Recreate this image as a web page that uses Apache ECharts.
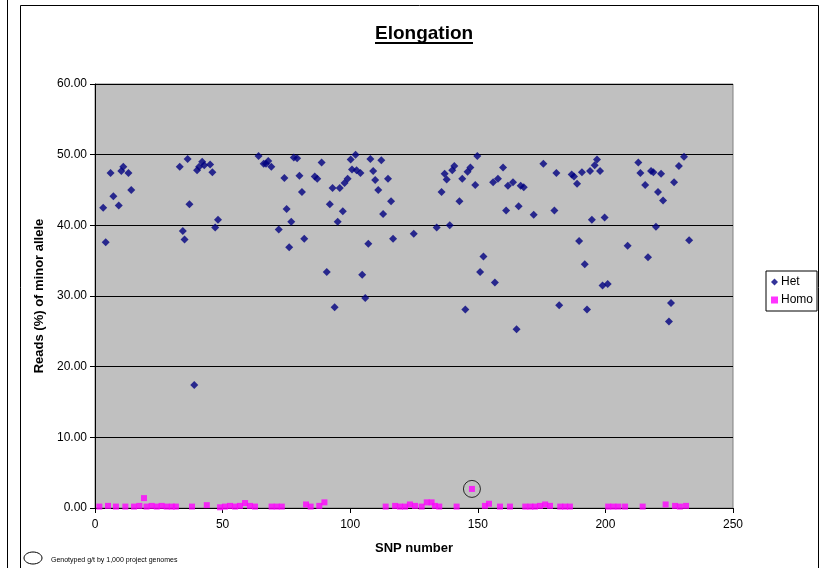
<!DOCTYPE html>
<html>
<head>
<meta charset="utf-8">
<script src="https://cdn.jsdelivr.net/npm/echarts@6/dist/echarts.min.js"></script>
<style>
  html, body { margin: 0; padding: 0; background: #fff; }
  #chart { width: 822px; height: 568px; }
</style>
</head>
<body>
<div id="chart"></div>
<script>
// Heterozygous calls: [SNP number, reads (%) of minor allele]
const hetPoints = [
  [3.2,42.5],[4.2,37.6],[6.1,47.4],[7.2,44.1],[9.3,42.8],[10.3,47.7],[11.1,48.3],[13.1,47.4],[14.2,45.0],
  [33.2,48.3],[34.4,39.2],[35.1,38.0],[36.3,49.4],[37.0,43.0],[38.9,17.4],[40.0,47.8],[40.8,48.3],[42.0,49.0],
  [42.8,48.5],[45.1,48.6],[46.0,47.5],[47.1,39.7],[48.2,40.8],
  [64.1,49.8],[66.1,48.7],[67.0,48.7],[67.9,49.1],[69.1,48.3],[72.0,39.4],[74.2,46.7],[75.1,42.3],[76.1,36.9],
  [76.9,40.5],[77.9,49.6],[79.2,49.5],[80.1,47.0],[81.1,44.7],[82.0,38.1],[86.1,46.9],[87.1,46.6],[88.8,48.9],
  [90.8,33.4],[92.0,43.0],[93.1,45.3],[93.9,28.4],[95.1,40.5],[95.9,45.3],[97.1,42.0],[97.8,46.0],[99.0,46.6],
  [100.2,49.3],[100.7,47.9],[102.1,50.0],[102.5,47.8],[104.0,47.4],[104.7,33.0],[105.9,29.7],[107.1,37.4],
  [107.9,49.4],[109.0,47.7],[109.8,46.4],[111.0,45.0],[112.2,49.2],[112.9,41.6],[114.8,46.6],[116.0,43.4],
  [116.8,38.1],[124.9,38.8],
  [133.9,39.7],[135.8,44.7],[137.0,47.3],[137.8,46.5],[139.0,40.0],[140.0,47.8],[140.8,48.4],[142.8,43.4],
  [143.9,46.6],[145.1,28.1],[146.0,47.6],[147.1,48.2],[149.0,45.7],[149.8,49.8],[150.9,33.4],[152.2,35.6],
  [156.0,46.1],[156.7,31.9],[157.9,46.6],[159.9,48.2],[161.1,42.1],[161.8,45.6],[163.8,46.1],[165.2,25.3],
  [166.0,42.7],[166.8,45.6],[168.0,45.4],[171.9,41.5],[175.7,48.7],[180.0,42.1],[180.8,47.4],[181.9,28.7],
  [186.8,47.2],[187.7,46.9],[188.9,45.9],[189.7,37.8],[190.8,47.5],[191.9,34.5],[192.8,28.1],[194.0,47.7],
  [194.7,40.8],[195.8,48.5],[196.7,49.3],[197.9,47.7],[198.9,31.5],[199.7,41.1],[200.9,31.7],[208.7,37.1],
  [212.9,48.9],[213.7,47.4],[215.6,45.7],[216.7,35.5],[217.9,47.7],[218.8,47.5],[219.8,39.8],[220.6,44.7],
  [221.8,47.3],[222.6,43.5],[224.9,26.4],[225.7,29.0],[226.9,46.1],[228.8,48.4],[230.8,49.7],[232.8,37.9]
];

// Homozygous calls: [SNP number, reads (%) of minor allele]
const homoPoints = [
  [1.7,0.2],[5.1,0.3],[8.2,0.2],[11.9,0.2],[15.3,0.2],[17.4,0.3],[19.2,1.4],[20.2,0.2],[22.2,0.3],
  [24.2,0.2],[26.1,0.3],[28.1,0.2],[30.1,0.2],[31.7,0.2],[38.0,0.2],[43.8,0.4],[49.0,0.1],[50.9,0.2],
  [52.9,0.3],[54.9,0.2],[56.8,0.3],[58.8,0.7],[60.7,0.3],[62.7,0.2],[69.2,0.2],[71.2,0.2],[73.2,0.2],
  [82.7,0.5],[84.5,0.2],[87.9,0.3],[89.9,0.8],[113.9,0.2],[117.6,0.3],[119.5,0.2],[121.5,0.2],[123.4,0.5],
  [125.4,0.3],[128.0,0.2],[130.0,0.8],[131.9,0.8],[133.2,0.3],[134.9,0.2],[141.7,0.2],[147.7,2.7],
  [152.8,0.3],[154.4,0.6],[158.7,0.2],[162.6,0.2],[168.6,0.2],[170.6,0.2],[172.4,0.2],[174.4,0.3],
  [176.4,0.5],[178.3,0.3],[182.3,0.2],[184.2,0.2],[186.1,0.2],[201.1,0.2],[203.1,0.2],[205.1,0.2],
  [207.7,0.2],[214.6,0.2],[223.6,0.5],[227.3,0.3],[229.2,0.2],[231.6,0.3]
];

// SNP genotyped by the 1,000 genomes project (ringed)
const genotypedPoints = [[147.7, 2.7]];

const xTicks = { min: 0, max: 250, step: 50 };
const yTicks = { min: 0, max: 60, step: 10 };

const FONT = 'Liberation Sans, Arial, sans-serif';
const chart = echarts.init(document.getElementById('chart'), null, { renderer: 'canvas' });

chart.setOption({
  backgroundColor: '#ffffff',
  animation: false,
  title: {
    text: 'Elongation',
    left: 375, top: 24,
    padding: 0,
    textStyle: { fontFamily: FONT, fontSize: 19, fontWeight: 'bold', color: '#000' }
  },
  legend: {
    orient: 'vertical',
    left: 766, top: 271,
    width: 50,
    padding: [5, 4, 5, 5],
    itemGap: 6,
    itemWidth: 7, itemHeight: 7,
    borderColor: '#000', borderWidth: 1,
    backgroundColor: '#fff',
    data: [
      { name: 'Het', icon: 'diamond' },
      { name: 'Homo', icon: 'rect' }
    ],
    textStyle: { fontFamily: FONT, fontSize: 12, color: '#000', padding: [0, 0, 0, -2] }
  },
  grid: {
    left: 95, top: 84, width: 638, height: 424,
    show: true, backgroundColor: '#C0C0C0', borderColor: '#808080', borderWidth: 1
  },
  xAxis: {
    type: 'value',
    min: xTicks.min, max: xTicks.max, interval: xTicks.step,
    name: 'SNP number', nameLocation: 'middle', nameGap: 34,
    nameTextStyle: { fontFamily: FONT, fontSize: 13, fontWeight: 'bold', color: '#000' },
    axisLine: { lineStyle: { color: '#000', width: 1 } },
    axisTick: { show: true, length: 5, lineStyle: { color: '#000' } },
    axisLabel: { fontFamily: FONT, fontSize: 12, color: '#000', margin: 11 },
    splitLine: { show: false }
  },
  yAxis: {
    type: 'value',
    min: yTicks.min, max: yTicks.max, interval: yTicks.step,
    name: 'Reads (%) of minor allele', nameLocation: 'middle', nameGap: 46,
    nameTextStyle: { fontFamily: FONT, fontSize: 13, fontWeight: 'bold', color: '#000' },
    axisLine: { show: true, lineStyle: { color: '#000', width: 1 } },
    axisTick: { show: true, length: 5, lineStyle: { color: '#000' } },
    axisLabel: { fontFamily: FONT, fontSize: 12, color: '#000', margin: 8,
                 formatter: v => v.toFixed(2) },
    splitLine: { show: true, lineStyle: { color: '#000', width: 1 } }
  },
  series: [
    {
      name: 'Het', type: 'scatter', data: hetPoints,
      symbol: 'diamond', symbolSize: 8,
      itemStyle: { color: '#000080' }
    },
    {
      name: 'Homo', type: 'scatter', data: homoPoints,
      symbol: 'rect', symbolSize: 6,
      itemStyle: { color: '#FF00FF' }
    },
    {
      name: 'genotyped', type: 'scatter', data: genotypedPoints,
      symbol: 'circle', symbolSize: 17, silent: true, z: 5,
      itemStyle: { color: 'rgba(0,0,0,0)', borderColor: '#000', borderWidth: 1 }
    }
  ],
  graphic: [
    // outer chart frame and the neighbouring panel edge
    { type: 'rect', shape: { x: 20.5, y: 5.5, width: 798, height: 600 },
      style: { fill: null, stroke: '#000', lineWidth: 1 }, silent: true },
    { type: 'line', shape: { x1: 7.5, y1: 0, x2: 7.5, y2: 568 },
      style: { stroke: '#000', lineWidth: 1 }, silent: true },
    // title underline
    { type: 'line', shape: { x1: 375, y1: 43, x2: 473, y2: 43 },
      style: { stroke: '#000', lineWidth: 2 }, silent: true },
    // footnote key
    { type: 'ellipse', shape: { cx: 33, cy: 558, rx: 9, ry: 6 },
      style: { fill: null, stroke: '#000', lineWidth: 1 }, silent: true },
    { type: 'text', left: 51, top: 557,
      style: { text: 'Genotyped g/t by 1,000 project genomes', font: '7px ' + FONT, fill: '#000' },
      silent: true }
  ]
});
</script>
</body>
</html>
